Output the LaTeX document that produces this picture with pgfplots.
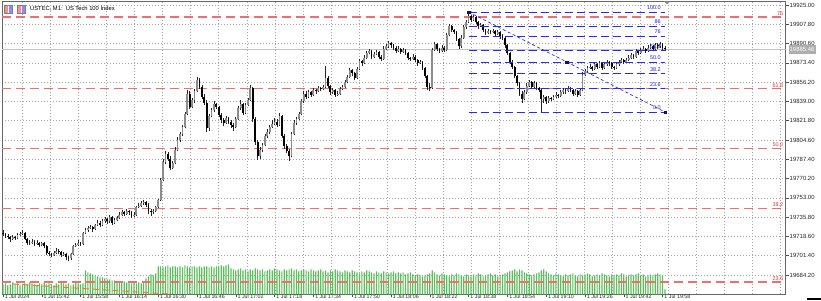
\documentclass[border=0pt]{standalone}
\usepackage{fontspec}
\setmainfont{Liberation Sans}
\usepackage{pgfplots}
\usepackage{pgfplotstable}
\pgfplotsset{compat=1.18}
\definecolor{fibred}{RGB}{240,110,110}
\definecolor{fibredtxt}{RGB}{235,50,50}
\definecolor{fibblue}{RGB}{40,40,250}
\definecolor{fibbluetxt}{RGB}{30,30,210}
\definecolor{volgreen}{RGB}{90,190,90}
\definecolor{gridgray}{RGB}{165,165,165}
\definecolor{pricegray}{RGB}{195,195,195}
\definecolor{orangeline}{RGB}{235,120,40}

\pgfplotstableread{
o h l c v
19722 19724 19719 19721 10
19721 19722 19717 19719 11
19719 19721 19716 19718 9
19718 19719 19714 19716 10
19716 19720 19715 19718 12
19718 19719 19715 19717 10
19717 19722 19716 19720 11
19720 19723 19719 19721 9
19721 19724 19720 19722 10
19722 19723 19715 19716 11
19716 19717 19711 19713 10
19713 19715 19711 19713 12
19713 19716 19712 19714 11
19714 19715 19710 19712 10
19712 19715 19711 19713 9
19713 19714 19709 19711 11
19711 19714 19710 19713 10
19713 19714 19708 19710 12
19710 19711 19702 19704 10
19704 19706 19701 19703 11
19703 19704 19700 19702 10
19702 19706 19701 19704 9
19704 19708 19703 19706 11
19706 19707 19703 19705 10
19705 19706 19700 19702 12
19702 19705 19701 19703 11
19703 19704 19698 19700 10
19700 19701 19697 19699 11
19699 19704 19698 19703 9
19703 19711 19702 19710 10
19710 19713 19709 19711 12
19711 19715 19710 19713 11
19713 19714 19710 19712 10
19712 19723 19711 19722 11
19722 19726 19721 19724 24
19724 19728 19723 19726 22
19726 19729 19725 19727 21
19727 19728 19723 19725 20
19725 19730 19724 19729 19
19729 19733 19728 19731 18
19731 19732 19727 19729 17
19729 19734 19728 19732 17
19732 19736 19731 19734 16
19734 19735 19730 19732 15
19732 19738 19731 19736 15
19736 19737 19729 19731 14
19731 19735 19730 19733 14
19733 19737 19732 19735 13
19735 19740 19734 19738 13
19738 19742 19737 19740 12
19740 19741 19737 19739 13
19739 19743 19738 19741 12
19741 19742 19738 19740 12
19740 19741 19735 19737 11
19737 19740 19736 19738 12
19738 19746 19737 19745 11
19745 19748 19744 19746 12
19746 19750 19745 19748 11
19748 19751 19747 19749 13
19749 19750 19745 19747 16
19747 19748 19739 19741 18
19741 19743 19737 19740 20
19740 19743 19739 19741 19
19741 19746 19740 19745 21
19745 19752 19744 19751 28
19751 19771 19750 19769 28
19769 19788 19768 19785 27
19785 19795 19783 19792 28
19792 19794 19786 19788 29
19788 19790 19778 19780 27
19780 19786 19779 19784 28
19784 19798 19783 19796 28
19796 19807 19795 19805 27
19805 19812 19803 19810 28
19810 19818 19808 19816 27
19816 19830 19815 19828 29
19828 19849 19827 19846 28
19846 19848 19832 19834 27
19834 19842 19833 19840 28
19840 19850 19838 19848 28
19848 19861 19847 19858 27
19858 19860 19850 19852 28
19852 19854 19841 19843 27
19843 19846 19836 19838 28
19838 19840 19812 19815 28
19815 19828 19813 19826 27
19826 19833 19825 19831 28
19831 19839 19830 19837 27
19837 19838 19832 19834 28
19834 19835 19825 19827 28
19827 19829 19820 19822 29
19822 19824 19817 19820 28
19820 19826 19819 19824 29
19824 19825 19819 19821 30
19821 19822 19815 19818 26
19818 19820 19813 19816 25
19816 19825 19815 19823 24
19823 19835 19822 19833 25
19833 19840 19831 19837 26
19837 19838 19827 19829 24
19829 19838 19828 19836 25
19836 19842 19835 19840 23
19840 19854 19839 19851 25
19851 19852 19821 19823 24
19823 19825 19800 19803 26
19803 19805 19787 19790 25
19790 19798 19788 19796 24
19796 19802 19794 19800 25
19800 19810 19799 19808 23
19808 19814 19806 19812 24
19812 19818 19810 19816 25
19816 19822 19815 19819 24
19819 19824 19818 19821 26
19821 19823 19816 19818 25
19818 19829 19817 19826 24
19826 19827 19806 19808 23
19808 19810 19797 19799 25
19799 19801 19793 19795 24
19795 19797 19786 19790 25
19790 19812 19789 19810 26
19810 19822 19809 19820 24
19820 19825 19818 19823 25
19823 19830 19822 19828 23
19828 19841 19827 19839 24
19839 19848 19838 19846 25
19846 19848 19841 19843 24
19843 19849 19842 19847 23
19847 19848 19843 19845 25
19845 19851 19844 19849 24
19849 19850 19846 19848 23
19848 19853 19847 19851 24
19851 19852 19848 19850 25
19850 19854 19849 19852 23
19852 19871 19851 19860 24
19860 19862 19851 19853 22
19853 19854 19845 19847 24
19847 19851 19846 19849 23
19849 19850 19843 19845 25
19845 19848 19844 19846 24
19846 19852 19845 19850 23
19850 19854 19849 19852 22
19852 19858 19851 19856 24
19856 19863 19855 19861 23
19861 19869 19860 19867 22
19867 19868 19862 19864 24
19864 19865 19858 19860 23
19860 19870 19859 19868 22
19868 19877 19867 19875 21
19875 19876 19871 19873 23
19873 19880 19872 19878 22
19878 19884 19877 19882 24
19882 19886 19881 19884 23
19884 19885 19877 19879 22
19879 19883 19878 19881 21
19881 19885 19880 19883 23
19883 19884 19877 19879 22
19879 19880 19875 19877 21
19877 19888 19876 19886 23
19886 19890 19885 19888 22
19888 19893 19887 19891 21
19891 19892 19887 19889 22
19889 19890 19885 19887 23
19887 19888 19882 19884 21
19884 19888 19883 19886 22
19886 19887 19881 19883 21
19883 19887 19882 19885 22
19885 19886 19880 19882 20
19882 19883 19876 19878 21
19878 19879 19875 19877 22
19877 19881 19876 19879 20
19879 19880 19874 19876 19
19876 19877 19871 19873 20
19873 19876 19872 19874 19
19874 19875 19867 19869 18
19869 19870 19860 19862 19
19862 19863 19849 19852 20
19852 19855 19848 19851 21
19851 19887 19850 19885 24
19885 19892 19884 19890 22
19890 19891 19884 19886 20
19886 19887 19882 19884 19
19884 19889 19883 19887 21
19887 19888 19883 19885 20
19885 19900 19884 19898 19
19898 19908 19897 19906 18
19906 19907 19901 19903 20
19903 19904 19899 19901 19
19901 19902 19893 19895 21
19895 19896 19886 19888 20
19888 19898 19887 19896 19
19896 19907 19895 19905 18
19905 19912 19904 19910 20
19910 19918.8 19909 19915 19
19915 19916 19910 19912 18
19912 19916 19911 19914 20
19914 19915 19908 19910 19
19910 19911 19904 19906 21
19906 19909 19905 19907 20
19907 19908 19901 19903 18
19903 19904 19898 19900 19
19900 19904 19899 19902 20
19902 19903 19899 19901 21
19901 19904 19900 19902 19
19902 19903 19897 19899 20
19899 19903 19898 19901 18
19901 19902 19895 19897 19
19897 19899 19894 19896 20
19896 19897 19887 19889 21
19889 19890 19880 19882 22
19882 19883 19872 19874 23
19874 19876 19868 19870 24
19870 19871 19860 19862 25
19862 19863 19853 19855 23
19855 19856 19844 19846 25
19846 19848 19838 19841 24
19841 19849 19840 19847 22
19847 19855 19846 19853 21
19853 19858 19852 19856 20
19856 19857 19850 19852 19
19852 19857 19851 19855 20
19855 19856 19849 19851 21
19851 19852 19847 19849 22
19849 19850 19829.6 19841 24
19841 19845 19838 19843 25
19843 19844 19837 19839 23
19839 19844 19838 19842 21
19842 19843 19839 19841 20
19841 19845 19840 19843 19
19843 19847 19842 19845 21
19845 19846 19842 19844 20
19844 19849 19843 19847 19
19847 19851 19846 19849 18
19849 19850 19846 19848 20
19848 19853 19847 19851 19
19851 19852 19847 19849 20
19849 19850 19844 19846 21
19846 19850 19845 19848 19
19848 19849 19843 19845 18
19845 19851 19844 19849 20
19849 19865 19848 19863 19
19863 19868 19862 19866 20
19866 19871 19865 19869 21
19869 19872 19868 19870 20
19870 19871 19866 19868 18
19868 19874 19867 19872 19
19872 19873 19868 19870 20
19870 19875 19869 19873 19
19873 19874 19867 19869 21
19869 19874 19868 19872 20
19872 19876 19871 19874 19
19874 19875 19871 19873 18
19873 19874 19868 19870 20
19870 19871 19867 19869 19
19869 19874 19868 19872 20
19872 19876 19871 19874 19
19874 19878 19873 19876 21
19876 19877 19872 19874 20
19874 19878 19873 19876 18
19876 19880 19875 19878 19
19878 19882 19877 19880 20
19880 19881 19877 19879 19
19879 19886 19878 19884 20
19884 19885 19880 19882 21
19882 19887 19881 19885 19
19885 19888 19884 19886 20
19886 19887 19882 19884 18
19884 19889 19883 19887 19
19887 19890 19886 19888 20
19888 19889 19884 19886 19
19886 19891 19885 19889 20
19889 19891 19886 19888 21
19888 19892 19887 19890 20
19890 19891 19885 19887 19
19887 19888 19884 19885.5 5
}\candles

\pgfplotsset{
  chartframe/.style={scale only axis, width=783.5bp, height=293.3bp,
    at={(2bp,5.7bp)}, anchor=south west, xmin=-0.41, xmax=322.7},
  pricerange/.style={ymin=19667.0, ymax=19928.57},
  candlebar/.style 2 args={draw=none, mark=none, forget plot,
    error bars/.cd, y dir=plus, y explicit, error mark=none,
    error bar style={solid, draw=#1, line width=#2}},
}

\begin{document}
\begin{tikzpicture}[x=1bp,y=1bp]
\path[use as bounding box] (0,0) rectangle (821,300);

% ---------- price axis: frame, grid, ticks ----------
\begin{axis}[chartframe, pricerange,
  clip mode=individual,
  axis line style={draw=black!60, line width=0.7bp},
  tick align=outside, xtick pos=bottom, ytick pos=right, yticklabel pos=right,
  major tick length=3bp, minor tick length=0bp,
  tick style={draw=black!70, line width=0.5bp},
  scaled y ticks=false, scaled x ticks=false,
  /pgf/number format/assume math mode=true,
  ytick={19684.2,19701.4,19718.6,19735.8,19753,19770.2,19787.4,19804.6,19821.8,19839,19856.2,19873.4,19890.6,19907.8,19925},
  yticklabel style={font=\fontsize{6}{6}\selectfont, text=black!85, inner sep=1bp,
    /pgf/number format/fixed, /pgf/number format/fixed zerofill,
    /pgf/number format/precision=2, /pgf/number format/1000 sep={}},
  ymajorgrids,
  major grid style={draw=gridgray, line width=0.5bp, dash pattern=on 1bp off 2bp},
  minor xtick={7.835,19.423,31.011,42.599,54.187,65.775,77.363,88.951,100.539,112.127,123.715,135.303,146.891,158.479,170.067,181.655,193.243,204.831,216.419,228.007,239.595,251.183,262.771,274.359,285.947,297.535,309.123,320.711},
  xminorgrids,
  minor grid style={draw=gridgray, line width=0.5bp, dash pattern=on 1bp off 2bp},
  xtick={0,16,32,48,64,80,96,112,128,144,160,176,192,208,224,240,256,272},
  xticklabels={1 Jul 2024,1 Jul 15:42,1 Jul 15:58,1 Jul 16:14,1 Jul 16:30,1 Jul 16:46,1 Jul 17:02,1 Jul 17:18,1 Jul 17:34,1 Jul 17:50,1 Jul 18:06,1 Jul 18:22,1 Jul 18:38,1 Jul 18:54,1 Jul 19:10,1 Jul 19:26,1 Jul 19:42,1 Jul 19:58},
  xticklabel style={font=\fontsize{5.3}{5.3}\selectfont, text=black!85, anchor=north west, inner sep=0.2bp, xshift=1.5bp, yshift=2.6bp},
]
% current price line
\addplot[pricegray, line width=0.7bp] coordinates {(-0.41,19885.46) (322.7,19885.46)};
% current price box
\node[anchor=west, fill=black!32, text=white, font=\fontsize{6}{6}\selectfont, inner sep=1bp, minimum height=8.5bp] at (axis cs:323.9,19885.46) {19885.46};
\end{axis}

% ---------- volume axis ----------
\begin{axis}[chartframe, ymin=0, ymax=293.3, hide axis]
\addplot[ybar, bar width=1.2bp, fill=volgreen, draw=none] table[x expr=\coordindex, y=v] {\candles};
\end{axis}

% ---------- objects and candles ----------
\begin{axis}[chartframe, pricerange, hide axis, clip mode=individual]
% red fibonacci levels (behind the candles)
\addplot[fibred, line width=1.2bp, dash pattern=on 9bp off 5bp] coordinates {(-0.41,19914.3) (322.7,19914.3)};
\addplot[fibred, line width=1.2bp, dash pattern=on 9bp off 5bp] coordinates {(-0.41,19850.2) (322.7,19850.2)};
\addplot[fibred, line width=1.2bp, dash pattern=on 9bp off 5bp] coordinates {(-0.41,19797.0) (322.7,19797.0)};
\addplot[fibred, line width=1.2bp, dash pattern=on 9bp off 5bp] coordinates {(-0.41,19743.8) (322.7,19743.8)};
\addplot[fibred, line width=1.2bp, dash pattern=on 9bp off 5bp] coordinates {(-0.41,19678.0) (322.7,19678.0)};
\addplot[orangeline, line width=0.9bp, dash pattern=on 6bp off 4bp] coordinates {(4.1,19676.2) (68,19667.3)};
\begin{scope}[every node/.style={anchor=south east, text=fibredtxt, font=\fontsize{5.5}{5.5}\selectfont, inner sep=0.4bp, yshift=1bp}]
\node at (axis cs:322.0,19914.3) {76};
\node at (axis cs:322.0,19850.2) {61.8};
\node at (axis cs:322.0,19797.0) {50.0};
\node at (axis cs:322.0,19743.8) {38.2};
\node at (axis cs:322.0,19678.0) {23.6};
\end{scope}

% wicks
\addplot[candlebar={black!85}{0.6bp}]
  table[x expr=\coordindex, y=l, y error plus expr={\thisrow{h}-\thisrow{l}}] {\candles};
% bull bodies
\addplot[candlebar={black!45}{1.8bp}]
  table[x expr=\coordindex, y=o, y error plus expr={max(\thisrow{c}-\thisrow{o},0)}] {\candles};
% bear bodies
\addplot[candlebar={black}{1.8bp}]
  table[x expr=\coordindex, y=c, y error plus expr={max(\thisrow{o}-\thisrow{c},0)}] {\candles};

% blue fibonacci retracement
\addplot[fibblue, line width=0.8bp, dash pattern=on 8bp off 4bp] coordinates {(192,19918.8) (273,19918.8)};
\addplot[fibblue, line width=0.8bp, dash pattern=on 8bp off 4bp] coordinates {(192,19906.3) (273,19906.3)};
\addplot[fibblue, line width=0.8bp, dash pattern=on 8bp off 4bp] coordinates {(192,19897.4) (273,19897.4)};
\addplot[fibblue, line width=0.8bp, dash pattern=on 8bp off 4bp] coordinates {(192,19884.7) (273,19884.7)};
\addplot[fibblue, line width=0.8bp, dash pattern=on 8bp off 4bp] coordinates {(192,19874.2) (273,19874.2)};
\addplot[fibblue, line width=0.8bp, dash pattern=on 8bp off 4bp] coordinates {(192,19863.7) (273,19863.7)};
\addplot[fibblue, line width=0.8bp, dash pattern=on 8bp off 4bp] coordinates {(192,19850.7) (273,19850.7)};
\addplot[fibblue, line width=0.8bp, dash pattern=on 8bp off 4bp] coordinates {(192,19829.6) (273,19829.6)};
\addplot[fibblue, line width=0.7bp, dash pattern=on 3bp off 2.5bp] coordinates {(192,19918.8) (273,19829.6)};
\addplot[only marks, mark=square*, mark size=1.2bp, draw=fibblue!40!black, fill=fibblue!40!black] coordinates {(192,19918.8) (232.5,19874.2) (273,19829.6)};

\begin{scope}[every node/.style={anchor=south east, text=fibbluetxt, font=\fontsize{5.5}{5.5}\selectfont, inner sep=0.4bp, yshift=1.5bp}]
\node at (axis cs:271.5,19918.8) {100.0};
\node at (axis cs:271.5,19906.3) {86};
\node at (axis cs:271.5,19897.4) {76};
\node at (axis cs:271.5,19884.7) {61.8};
\node at (axis cs:271.5,19874.2) {50.0};
\node at (axis cs:271.5,19863.7) {38.2};
\node at (axis cs:271.5,19850.7) {23.6};
\node at (axis cs:271.5,19829.6) {0.0};
\end{scope}
\end{axis}

% ---------- title and decorations ----------
\fill[red!45] (4,287) rectangle (8,295);
\fill[blue!45] (8.5,287) rectangle (12.5,295);
\draw[black!50, line width=0.3bp] (4,287) rectangle (12.5,295);
\fill[red!45] (17,287) rectangle (21,295);
\fill[blue!45] (21.5,287) rectangle (25.5,295);
\draw[black!50, line width=0.3bp] (17,287) rectangle (25.5,295);
\node[anchor=west, inner sep=0pt, font=\fontsize{5.8}{5.8}\selectfont] at (30,291) {USTEC, M1:\ \ US Tech 100 Index};
\fill[black!45] (664,298.5) -- (670,298.5) -- (667,295.5) -- cycle;
\fill[black] (807,0) rectangle (821,2);
\end{tikzpicture}
\end{document}
